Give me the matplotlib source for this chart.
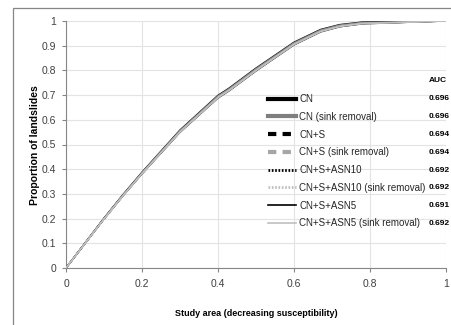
import numpy as np
import matplotlib.pyplot as plt
from matplotlib.patches import Rectangle

plt.rcParams['font.family'] = ['Liberation Sans', 'DejaVu Sans']

# curve (cumulative proportion of landslides)
area = [0, 0.05, 0.1, 0.15, 0.2, 0.3, 0.4, 0.43, 0.5, 0.6, 0.67, 0.72, 0.78, 0.85, 1.0]
base = [0, 0.10, 0.20, 0.295, 0.385, 0.555, 0.695, 0.725, 0.805, 0.910, 0.962, 0.982, 0.993, 0.995, 1.0]
offsets = [0.004, 0.002, 0.0, -0.002, -0.004, -0.006, -0.008, -0.005]

names = ['CN', 'CN (sink removal)', 'CN+S', 'CN+S (sink removal)',
         'CN+S+ASN10', 'CN+S+ASN10 (sink removal)', 'CN+S+ASN5', 'CN+S+ASN5 (sink removal)']
auc = ['0.696', '0.696', '0.694', '0.694', '0.692', '0.692', '0.691', '0.692']
colors = ['black', '#7f7f7f', 'black', '#a6a6a6', 'black', '#bfbfbf', 'black', '#bfbfbf']
widths = [3.0, 3.0, 3.0, 3.0, 2.0, 2.0, 1.2, 1.2]
styles = ['-', '-', (0, (2, 1.5)), (0, (2, 1.5)), (0, (0.6, 0.6)), (0, (0.6, 0.6)), '-', '-']

fig = plt.figure(figsize=(4.52, 3.25), dpi=100)
W, H = 452, 325
ax = fig.add_axes([66 / W, 1 - 268 / H, 380 / W, 247 / H])

fig.patches.append(Rectangle((13 / W, -0.1), 1.2, 1 - 8 / H + 0.1, transform=fig.transFigure,
                             fill=False, edgecolor='#868686', linewidth=0.9))

for i in range(len(names)):
    y = np.clip(np.array(base) + np.array(offsets[i]) * np.sin(np.pi * np.array(area)), 0, 1)
    ax.plot(area, y, color=colors[i], lw=1.1 if i < 6 else 0.8, ls='-', zorder=3 + (i % 2))
    # legend-only proxies
    ax.plot([], [], color=colors[i], lw=widths[i], ls=styles[i], label=names[i])

ax.set_xlim(0, 1)
ax.set_ylim(0, 1)
ax.set_xticks(np.arange(0, 1.01, 0.2))
ax.set_xticklabels(['0', '0.2', '0.4', '0.6', '0.8', '1'])
ax.set_yticks(np.arange(0, 1.01, 0.1))
ax.set_yticklabels(['0', '0.1', '0.2', '0.3', '0.4', '0.5', '0.6', '0.7', '0.8', '0.9', '1'])
ax.grid(True, color='#e3e3e3', lw=0.8)
ax.set_axisbelow(True)
for s in ['top', 'right']:
    ax.spines[s].set_visible(False)
for s in ['left', 'bottom']:
    ax.spines[s].set_color('#868686')
ax.tick_params(length=3, color='#868686', labelsize=7.5, labelcolor='#404040', pad=4)
ax.tick_params(axis='x', pad=5)

ax.set_xlabel('Study area (decreasing susceptibility)', fontsize=6.5, fontweight='bold', labelpad=14)
fig.text(35 / W, 1 - 145 / H, 'Proportion of landslides', rotation=90, fontsize=7.5,
         fontweight='bold', ha='center', va='center')

leg = ax.legend(loc='upper left', bbox_to_anchor=(268 / W, 1 - 94 / H), bbox_transform=fig.transFigure,
                frameon=False, fontsize=7, handlelength=2.9, handletextpad=0.3, labelspacing=0.8,
                borderpad=0, borderaxespad=0)
for t in leg.get_texts():
    t.set_color('#262626')

fig.canvas.draw()
inv = fig.transFigure.inverted()
for t, v in zip(leg.get_texts(), auc):
    bb = t.get_window_extent()
    yc = inv.transform((0, (bb.y0 + bb.y1) / 2))[1]
    fig.text(450 / W, yc, v, fontsize=6, fontweight='bold', ha='right', va='center')
fig.text(438 / W, 1 - 80 / H, 'AUC', fontsize=6, fontweight='bold', ha='center', va='center')

fig.savefig('out.png', dpi=100)
